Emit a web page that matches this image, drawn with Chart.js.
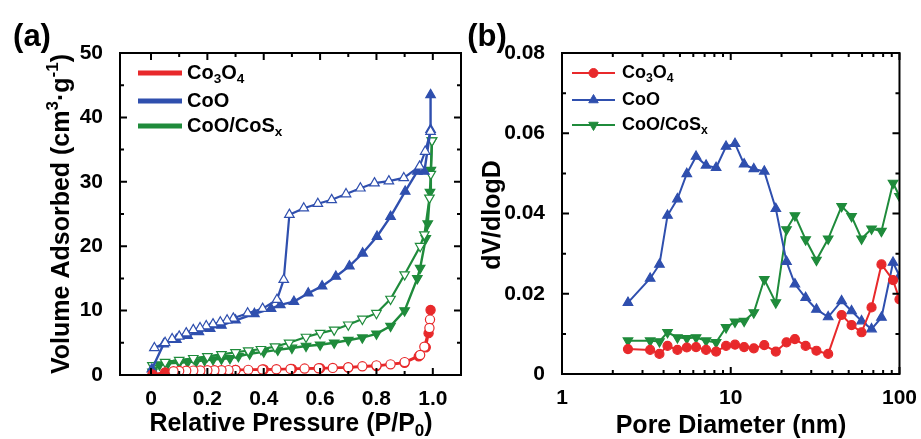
<!DOCTYPE html>
<html>
<head>
<meta charset="utf-8">
<script src="https://cdn.jsdelivr.net/npm/chart.js"></script>
<style>
  body { margin: 0; background: #fff; width: 921px; height: 439px; overflow: hidden; position: relative; }
  canvas { position: absolute; top: 0; }
  #chartA { left: 0; }
  #chartB { left: 462px; }
</style>
</head>
<body>
<canvas id="chartA" width="470" height="439"></canvas>
<canvas id="chartB" width="459" height="439"></canvas>
<script>
// ---- panel (a): N2 isotherms ----
const co3o4AdsP = [0.005, 0.05, 0.1, 0.2, 0.3, 0.4, 0.5, 0.6, 0.7, 0.8, 0.9, 0.95, 0.975, 0.985, 0.992];
const co3o4AdsV = [0.1, 0.4, 0.6, 0.7, 0.8, 0.85, 0.95, 1.05, 1.15, 1.4, 1.9, 2.9, 4.3, 6.5, 10.1];
const co3o4DesP = [0.99, 0.988, 0.97, 0.955, 0.9, 0.85, 0.8, 0.75, 0.7, 0.645, 0.595, 0.545, 0.495, 0.445, 0.395, 0.345, 0.3, 0.275, 0.25, 0.225, 0.2, 0.175, 0.15, 0.125, 0.1, 0.08];
const co3o4DesV = [8.6, 7.3, 4.4, 3.1, 2.0, 1.65, 1.5, 1.35, 1.2, 1.1, 1.05, 1.0, 0.95, 0.9, 0.85, 0.8, 0.78, 0.76, 0.75, 0.73, 0.72, 0.7, 0.68, 0.66, 0.63, 0.6];

const cooAdsP = [0.003, 0.045, 0.09, 0.13, 0.17, 0.21, 0.25, 0.3, 0.367, 0.426, 0.459, 0.507, 0.558, 0.607, 0.656, 0.704, 0.751, 0.802, 0.85, 0.902, 0.945, 0.97, 0.992, 0.992];
const cooAdsV = [0.9, 4.8, 5.5, 6.1, 6.7, 7.2, 7.7, 8.5, 9.5, 10.3, 10.9, 11.4, 12.7, 13.8, 15.3, 16.9, 18.9, 21.5, 24.6, 28.5, 31.6, 31.6, 38.1, 43.5];
const cooDesP = [0.992, 0.973, 0.953, 0.897, 0.844, 0.793, 0.743, 0.692, 0.641, 0.592, 0.542, 0.491, 0.471, 0.447, 0.396, 0.343, 0.292, 0.27, 0.246, 0.22, 0.196, 0.174, 0.15, 0.125, 0.1, 0.075, 0.05, 0.012];
const cooDesV = [37.8, 34.7, 32.4, 30.6, 30.1, 29.8, 29.0, 28.1, 27.2, 26.6, 25.9, 24.9, 14.8, 11.7, 10.3, 9.6, 8.8, 8.5, 8.2, 7.9, 7.6, 7.3, 7.0, 6.5, 6.0, 5.6, 5.0, 4.2];

const cosAdsP = [0.005, 0.03, 0.06, 0.1, 0.13, 0.16, 0.19, 0.22, 0.25, 0.28, 0.31, 0.35, 0.4, 0.45, 0.5, 0.55, 0.6, 0.65, 0.7, 0.75, 0.8, 0.85, 0.9, 0.945, 0.955, 0.975, 0.982, 0.99, 0.993, 0.997];
const cosAdsV = [0.5, 1.6, 1.8, 1.9, 2.0, 2.1, 2.3, 2.4, 2.5, 2.6, 2.9, 3.3, 3.6, 3.9, 4.2, 4.5, 4.7, 5.0, 5.4, 5.8, 6.4, 7.6, 10.0, 15.0, 16.6, 21.2, 23.5, 28.4, 31.8, 36.4];
const cosDesP = [0.997, 0.993, 0.988, 0.97, 0.955, 0.9, 0.85, 0.8, 0.75, 0.7, 0.65, 0.6, 0.55, 0.49, 0.44, 0.39, 0.345, 0.3, 0.25, 0.2, 0.15, 0.1, 0.05, 0.005];
const cosDesV = [36.4, 31.2, 27.5, 21.8, 20.0, 15.6, 11.8, 9.6, 8.7, 7.8, 7.0, 6.5, 5.9, 5.0, 4.4, 4.0, 3.8, 3.5, 3.2, 2.9, 2.6, 2.3, 2.0, 1.5];

const xTicksA = [0, 0.2, 0.4, 0.6, 0.8, 1.0];
const xTickLabelsA = ['0', '0.2', '0.4', '0.6', '0.8', '1.0'];
const xMinorA = [0.1, 0.3, 0.5, 0.7, 0.9];
const yTicksA = [0, 10, 20, 30, 40, 50];
const yTickLabelsA = ['0', '10', '20', '30', '40', '50'];
const yMinorA = [5, 15, 25, 35, 45];

// ---- panel (b): pore size distribution ----
const poreD = [2.46, 3.33, 3.78, 4.22, 4.83, 5.49, 6.23, 7.14, 8.19, 9.38, 10.6, 12.0, 13.7, 15.8, 18.5, 21.4, 24.0, 27.8, 32.2, 37.8, 45.4, 52.0, 59.6, 68.3, 78.2, 91.6, 100];
const co3o4Dist = [0.0062, 0.006, 0.005, 0.007, 0.006, 0.0066, 0.0067, 0.006, 0.0056, 0.007, 0.0073, 0.0067, 0.0064, 0.0072, 0.0056, 0.0079, 0.0087, 0.007, 0.0058, 0.005, 0.0147, 0.0122, 0.0104, 0.0166, 0.0273, 0.0234, 0.0186];
const cooDist = [0.0178, 0.0238, 0.0273, 0.0395, 0.0436, 0.0499, 0.0542, 0.052, 0.0514, 0.0567, 0.0574, 0.0523, 0.0511, 0.0505, 0.0412, 0.028, 0.0224, 0.019, 0.0161, 0.0142, 0.0182, 0.0157, 0.0132, 0.0112, 0.0141, 0.0278, 0.0244];
const cosDist = [0.0083, 0.0083, 0.0081, 0.0104, 0.0091, 0.0089, 0.0091, 0.0083, 0.0079, 0.0116, 0.013, 0.0132, 0.0153, 0.0236, 0.0178, 0.036, 0.0395, 0.0335, 0.0284, 0.0337, 0.0418, 0.0393, 0.0337, 0.0362, 0.0356, 0.0476, 0.0443];

const xTicksB = [1, 10, 100];
const xTickLabelsB = ['1', '10', '100'];
const xMinorB = [2, 3, 4, 5, 6, 7, 8, 9, 20, 30, 40, 50, 60, 70, 80, 90];
const yTicksB = [0, 0.02, 0.04, 0.06, 0.08];
const yTickLabelsB = ['0', '0.02', '0.04', '0.06', '0.08'];
const yMinorB = [0.01, 0.03, 0.05, 0.07];

const RED = '#e8292b', BLUE = '#2f4fae', GREEN = '#1f8b3b';
const FAMILY = '"Liberation Sans", Arial, sans-serif';

function xy(xs, ys) { return xs.map((v, i) => ({ x: v, y: ys[i] })); }

function drawRich(ctx, parts, x, y, size, align) {
  const f = s => 'bold ' + s + 'px ' + FAMILY;
  let w = 0;
  parts.forEach(([t, m]) => { ctx.font = f(m ? size * 0.68 : size); w += ctx.measureText(t).width; });
  let cx = align === 'center' ? x - w / 2 : x;
  ctx.textBaseline = 'middle';
  ctx.textAlign = 'left';
  ctx.fillStyle = '#000';
  parts.forEach(([t, m]) => {
    const s = m ? size * 0.68 : size;
    ctx.font = f(s);
    const dy = m === 'sub' ? size * 0.3 : (m === 'sup' ? -size * 0.36 : 0);
    ctx.fillText(t, cx, y + dy);
    cx += ctx.measureText(t).width;
  });
}

// frame with inward ticks on all four sides, plus texts and legend
const decor = {
  id: 'decor',
  afterDatasetsDraw(chart, args, o) {
    const { ctx, chartArea: a, scales: { x, y } } = chart;
    ctx.save();
    ctx.strokeStyle = '#000';
    ctx.lineWidth = 2;
    ctx.beginPath();
    const tx = (vals, len) => vals.forEach(v => {
      const p = x.getPixelForValue(v);
      ctx.moveTo(p, a.bottom); ctx.lineTo(p, a.bottom - len);
      ctx.moveTo(p, a.top); ctx.lineTo(p, a.top + len);
    });
    const ty = (vals, len) => vals.forEach(v => {
      const p = y.getPixelForValue(v);
      ctx.moveTo(a.left, p); ctx.lineTo(a.left + len, p);
      ctx.moveTo(a.right, p); ctx.lineTo(a.right - len, p);
    });
    tx(o.xMajor, 7); tx(o.xMinor, 4);
    ty(o.yMajor, 7); ty(o.yMinor, 4);
    ctx.stroke();
    ctx.strokeRect(a.left, a.top, a.right - a.left, a.bottom - a.top);

    // legend
    o.legend.items.forEach((it, i) => {
      const ly = o.legend.y[i];
      ctx.strokeStyle = it.color;
      ctx.lineWidth = o.legend.lineWidth;
      ctx.beginPath();
      ctx.moveTo(o.legend.x0, ly); ctx.lineTo(o.legend.x1, ly);
      ctx.stroke();
      if (it.marker) {
        ctx.fillStyle = it.color;
        ctx.strokeStyle = it.color;
        ctx.lineWidth = 1;
        Chart.helpers.drawPoint(ctx, { pointStyle: it.marker, radius: it.radius, rotation: it.rotation || 0, borderWidth: 1 }, (o.legend.x0 + o.legend.x1) / 2, ly);
      }
      drawRich(ctx, it.label, o.legend.tx, ly, o.legend.size, 'left');
    });

    // titles
    o.texts.forEach(t => {
      ctx.save();
      ctx.translate(t.x, t.y);
      if (t.rot) ctx.rotate(-Math.PI / 2);
      drawRich(ctx, t.parts, 0, 0, t.size, 'center');
      ctx.restore();
    });
    ctx.restore();
  }
};

const tickFont = { family: FAMILY, weight: 'bold', size: 21 };

function series(label, data, color, style, open, radius, rot, lw) {
  return {
    label, data,
    borderColor: color,
    backgroundColor: color,
    borderWidth: lw,
    pointStyle: style,
    pointRotation: rot || 0,
    pointRadius: radius,
    pointBackgroundColor: open ? '#fff' : color,
    pointBorderColor: color,
    pointBorderWidth: 1.2,
    tension: 0,
    fill: false
  };
}

new Chart(document.getElementById('chartA'), {
  type: 'line',
  data: {
    datasets: [
      series('Co3O4 des', xy(co3o4DesP, co3o4DesV), RED, 'circle', true, 4.6, 0, 2.4),
      series('Co3O4 ads', xy(co3o4AdsP, co3o4AdsV), RED, 'circle', false, 4.6, 0, 2.4),
      series('CoO des', xy(cooDesP, cooDesV), BLUE, 'triangle', true, 5.5, 0, 2.2),
      series('CoO ads', xy(cooAdsP, cooAdsV), BLUE, 'triangle', false, 5.5, 0, 2.4),
      series('CoO/CoSx des', xy(cosDesP, cosDesV), GREEN, 'triangle', true, 5.5, 180, 2.2),
      series('CoO/CoSx ads', xy(cosAdsP, cosAdsV), GREEN, 'triangle', false, 5.5, 180, 2.4)
    ]
  },
  options: {
    responsive: false,
    animation: false,
    layout: { padding: { left: 0, right: 9, top: 53, bottom: 0 } },
    plugins: {
      legend: { display: false },
      tooltip: { enabled: false },
      decor: {
        xMajor: xTicksA, xMinor: xMinorA, yMajor: yTicksA, yMinor: yMinorA,
        legend: {
          x0: 138, x1: 182, tx: 187, y: [73, 101, 126], size: 20, lineWidth: 5,
          items: [
            { color: RED, label: [['Co'], ['3', 'sub'], ['O'], ['4', 'sub']] },
            { color: BLUE, label: [['CoO']] },
            { color: GREEN, label: [['CoO/CoS'], ['x', 'sub']] }
          ]
        },
        texts: [
          { parts: [['(a)']], x: 32, y: 37, size: 31 },
          { parts: [['Relative Pressure (P/P'], ['0', 'sub'], [')']], x: 291, y: 424, size: 25 },
          { parts: [['Volume Adsorbed (cm'], ['3', 'sup'], ['\u00b7g'], ['-1', 'sup'], [')']], x: 62, y: 214, size: 25, rot: true }
        ]
      }
    },
    scales: {
      x: {
        type: 'linear', min: -0.11, max: 1.1,
        afterBuildTicks: s => { s.ticks = xTicksA.map(v => ({ value: v })); },
        afterFit: s => { s.height = 64; },
        grid: { display: false }, border: { display: false },
        ticks: { padding: 4, color: '#000', font: tickFont, maxRotation: 0, callback: (v, i) => xTickLabelsA[i] }
      },
      y: {
        type: 'linear', min: 0, max: 50,
        afterBuildTicks: s => { s.ticks = yTicksA.map(v => ({ value: v })); },
        afterFit: s => { s.width = 120; },
        grid: { display: false }, border: { display: false },
        ticks: { padding: 9, color: '#000', font: tickFont, callback: (v, i) => yTickLabelsA[i] }
      }
    }
  },
  plugins: [decor]
});

new Chart(document.getElementById('chartB'), {
  type: 'line',
  data: {
    datasets: [
      series('Co3O4', xy(poreD, co3o4Dist), RED, 'circle', false, 4.5, 0, 2),
      series('CoO', xy(poreD, cooDist), BLUE, 'triangle', false, 5.5, 0, 2),
      series('CoO/CoSx', xy(poreD, cosDist), GREEN, 'triangle', false, 5.5, 180, 2)
    ]
  },
  options: {
    responsive: false,
    animation: false,
    layout: { padding: { left: 0, right: 21.5, top: 53, bottom: 0 } },
    plugins: {
      legend: { display: false },
      tooltip: { enabled: false },
      decor: {
        xMajor: xTicksB, xMinor: xMinorB, yMajor: yTicksB, yMinor: yMinorB,
        legend: {
          x0: 110, x1: 153, tx: 160, y: [73, 100, 125], size: 18, lineWidth: 2,
          items: [
            { color: RED, marker: 'circle', radius: 4.5, label: [['Co'], ['3', 'sub'], ['O'], ['4', 'sub']] },
            { color: BLUE, marker: 'triangle', radius: 5.5, label: [['CoO']] },
            { color: GREEN, marker: 'triangle', radius: 5.5, rotation: 180, label: [['CoO/CoS'], ['x', 'sub']] }
          ]
        },
        texts: [
          { parts: [['(b)']], x: 25, y: 37, size: 31 },
          { parts: [['Pore Diameter (nm)']], x: 269, y: 426, size: 25 },
          { parts: [['dV/dlogD']], x: 31, y: 215, size: 25, rot: true }
        ]
      }
    },
    scales: {
      x: {
        type: 'logarithmic', min: 1, max: 100,
        afterBuildTicks: s => { s.ticks = xTicksB.map(v => ({ value: v })); },
        afterFit: s => { s.height = 65; },
        grid: { display: false }, border: { display: false },
        ticks: { padding: 4, color: '#000', font: tickFont, maxRotation: 0, autoSkip: false, callback: (v, i) => xTickLabelsB[i] }
      },
      y: {
        type: 'linear', min: 0, max: 0.08,
        afterBuildTicks: s => { s.ticks = yTicksB.map(v => ({ value: v })); },
        afterFit: s => { s.width = 100; },
        grid: { display: false }, border: { display: false },
        ticks: { padding: 9, color: '#000', font: tickFont, callback: (v, i) => yTickLabelsB[i] }
      }
    }
  },
  plugins: [decor]
});
</script>
</body>
</html>
